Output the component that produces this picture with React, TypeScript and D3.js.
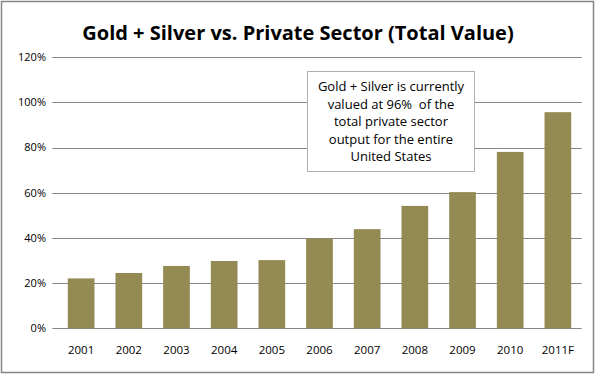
import React, { useEffect, useRef } from 'react'
import * as d3 from 'd3'

const years = ['2001', '2002', '2003', '2004', '2005', '2006', '2007', '2008', '2009', '2010', '2011F']
const values = [0.221, 0.245, 0.276, 0.298, 0.302, 0.398, 0.439, 0.542, 0.603, 0.781, 0.957]
const yTicks = [0, 0.2, 0.4, 0.6, 0.8, 1.0, 1.2]
const noteLines = [
    'Gold + Silver is currently',
    'valued at 96%  of the',
    'total private sector',
    'output for the entire',
    'United States',
]

const W = 597
const H = 374

const App: React.FC = () => {
    const svgRef = useRef<SVGSVGElement>(null)

    useEffect(() => {
        document.body.style.margin = '0'
        if (!svgRef.current) return
        const svg = d3.select(svgRef.current)
        svg.selectAll('*').remove()

        const font = 'Open Sans, Liberation Sans, sans-serif'
        const left = 57.3, right = 581.7, top = 57.3, bottom = 328.3

        svg.append('rect').attr('width', W).attr('height', H).attr('fill', '#fff')
        // outer frame
        svg.append('rect')
            .attr('x', 1.5).attr('y', 1.5).attr('width', 592).attr('height', 371)
            .attr('fill', 'none').attr('stroke', '#868686').attr('stroke-width', 1.5)

        svg.append('text')
            .attr('x', 298).attr('y', 40)
            .attr('text-anchor', 'middle')
            .style('font-family', 'Open Sans, sans-serif')
            .style('font-weight', 'bold')
            .style('font-size', '20px')
            .style('fill', '#000')
            .text('Gold + Silver vs. Private Sector (Total Value)')

        const x = d3.scaleBand<string>()
            .domain(years)
            .range([left, right])
            .paddingInner(0.44)
            .paddingOuter(0.22)

        const y = d3.scaleLinear().domain([0, 1.2]).range([bottom, top])

        // gridlines
        svg.append('g').selectAll('line')
            .data(yTicks)
            .enter().append('line')
            .attr('x1', left - 5).attr('x2', right)
            .attr('y1', d => Math.round(y(d)) + 0.5).attr('y2', d => Math.round(y(d)) + 0.5)
            .attr('stroke', '#868686').attr('stroke-width', 1)

        svg.append('g').selectAll('text')
            .data(yTicks)
            .enter().append('text')
            .attr('x', 46).attr('y', d => y(d))
            .attr('dy', '0.35em')
            .attr('text-anchor', 'end')
            .style('font-family', font)
            .style('font-size', '11px')
            .style('fill', '#000')
            .text(d => d3.format('.0%')(d))

        svg.append('g').selectAll('rect')
            .data(values)
            .enter().append('rect')
            .attr('x', (d, i) => x(years[i])!)
            .attr('width', x.bandwidth())
            .attr('y', d => y(d))
            .attr('height', d => bottom - y(d))
            .attr('fill', '#948a54')

        svg.append('g').selectAll('text')
            .data(years)
            .enter().append('text')
            .attr('x', d => x(d)! + x.bandwidth() / 2)
            .attr('y', 354)
            .attr('text-anchor', 'middle')
            .style('font-family', font)
            .style('font-size', '11.5px')
            .style('fill', '#000')
            .text(d => d)

        // annotation box
        svg.append('rect')
            .attr('x', 307.5).attr('y', 71.5).attr('width', 167).attr('height', 100)
            .attr('fill', '#fff').attr('stroke', '#b0b0b0').attr('stroke-width', 1)

        svg.append('g').selectAll('text')
            .data(noteLines)
            .enter().append('text')
            .attr('x', 391).attr('y', (d, i) => 91 + i * 17.5)
            .attr('text-anchor', 'middle')
            .style('font-family', font)
            .style('font-size', '13px')
            .style('white-space', 'pre')
            .style('fill', '#000')
            .text(d => d)
    }, [])

    return <svg ref={svgRef} width={W} height={H} style={{ display: 'block' }} />
}

export default App
